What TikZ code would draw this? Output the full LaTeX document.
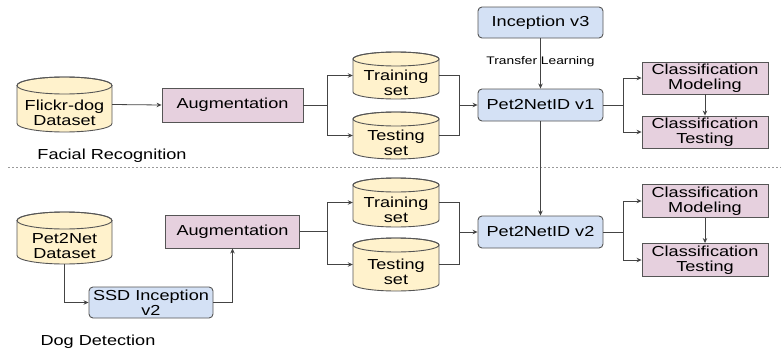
\documentclass[tikz,border=0pt]{standalone}
\usepackage{fontspec}
\setmainfont{Liberation Sans}[FakeStretch=1.25]
\usetikzlibrary{arrows.meta}

\definecolor{cylfill}{HTML}{FFF2CC}
\definecolor{pinkfill}{HTML}{E6D0DE}
\definecolor{bluefill}{HTML}{D4E1F5}
\definecolor{edgegray}{HTML}{555555}
\definecolor{wiregray}{HTML}{444444}
\definecolor{sepgray}{HTML}{9A9A9A}

\tikzset{
  mainfont/.style={font=\fontsize{14.5}{15}\selectfont},
  box/.style={draw=edgegray, line width=0.9pt, align=center, inner sep=0pt, mainfont},
  pinkbox/.style={box, fill=pinkfill},
  bluebox/.style={box, fill=bluefill, rounded corners=4pt},
  cylbody/.style={draw=edgegray, line width=0.9pt, fill=cylfill},
  cyllabel/.style={align=center, inner sep=0pt, mainfont},
  wire/.style={draw=wiregray, line width=0.8pt},
  arr/.style={wire, -{Stealth[length=5pt,width=4.5pt]}},
  caption/.style={inner sep=0pt, anchor=base, mainfont},
  smalllabel/.style={inner sep=0pt, font=\fontsize{11}{12}\selectfont},
}

% database cylinder: name, x1, y1, x2, y2, ellipse radius, text
\newcommand\dbcyl[7]{%
  \pgfmathsetmacro\cylcx{(#2+#4)/2}%
  \pgfmathsetmacro\cylrx{(#4-#2)/2}%
  \pgfmathsetmacro\cylty{#3+#6}%
  \pgfmathsetmacro\cylby{#5-#6}%
  \pgfmathsetmacro\cylw{#4-#2}%
  \pgfmathsetmacro\cylh{#5-#3}%
  \pgfmathsetmacro\cylmy{(#3+#5)/2}%
  \pgfmathsetmacro\cylty{#3+#6}%
  \pgfmathsetmacro\cyltxt{(#3+2*#6+#5)/2}%
  \path[cylbody] (#2,\cylty) -- (#2,\cylby)
    arc[start angle=180, end angle=0, x radius=\cylrx, y radius=#6]
    -- (#4,\cylty)
    arc[start angle=0, end angle=-180, x radius=\cylrx, y radius=#6] -- cycle;
  \draw[draw=edgegray, line width=0.9pt] (\cylcx,\cylty) ellipse[x radius=\cylrx, y radius=#6];
  \node[inner sep=0pt, minimum width=\cylw pt, minimum height=\cylh pt] (#1) at (\cylcx,\cylmy) {};
  \node[cyllabel] (#1-label) at (\cylcx,\cyltxt) {#7};
}

\begin{document}
\begin{tikzpicture}[x=1pt, y=-1pt]
  \useasboundingbox (0,0) rectangle (781,348);

  % separator between the two pipelines
  \draw[sepgray, line width=1pt, dash pattern=on 2pt off 2pt] (8,167) -- (781,167);

  % ---------- facial recognition pipeline ----------
  \dbcyl{flickr}{17}{77}{112}{132}{8.5}{Flickr-dog\\Dataset}
  \node[pinkbox, minimum width=141pt, minimum height=34pt] (aug1) at (232.5,105) {Augmentation};
  \dbcyl{train1}{353}{52}{439}{99}{7}{Training\\set}
  \dbcyl{test1}{353}{112}{439}{159}{7}{Testing\\set}
  \node[bluebox, minimum width=125pt, minimum height=31pt] (inc) at (540.5,22.5) {Inception v3};
  \node[bluebox, minimum width=125pt, minimum height=32pt] (p1) at (540.5,105) {Pet2NetID v1};
  \node[pinkbox, minimum width=126pt, minimum height=32pt] (cm1) at (705,78) {Classification\\Modeling};
  \node[pinkbox, minimum width=126pt, minimum height=32pt] (ct1) at (705,132) {Classification\\Testing};
  \node[caption] (cap1) at (112,159) {Facial Recognition};

  \coordinate (b1) at (327,105);
  \coordinate (j1) at (459,105);
  \coordinate (c1) at (623,105);

  \draw[arr] (flickr.east) -- (aug1.west);
  \draw[wire] (aug1.east) -- (b1);
  \draw[arr] (b1) |- (train1.west);
  \draw[arr] (b1) |- (test1.west);
  \draw[wire] (train1.east) -| (j1);
  \draw[wire] (test1.east) -| (j1);
  \draw[arr] (j1) -- (p1.west);
  \draw[arr] (inc.south) -- (p1.north);
  \node[smalllabel] (tl) at (540.5,62) {Transfer Learning};
  \draw[wire] (p1.east) -- (c1);
  \draw[arr] (c1) |- (cm1.west);
  \draw[arr] (c1) |- (ct1.west);
  \draw[arr] (cm1.south) -- (ct1.north);

  % ---------- dog detection pipeline ----------
  \dbcyl{pet}{17}{212}{112}{264}{8.5}{Pet2Net\\Dataset}
  \node[bluebox, minimum width=124pt, minimum height=31pt] (ssd) at (151,302.5) {SSD Inception\\v2};
  \node[pinkbox, minimum width=134pt, minimum height=33pt] (aug2) at (232.5,231.5) {Augmentation};
  \dbcyl{train2}{353}{178}{439}{227}{7}{Training\\set}
  \dbcyl{test2}{353}{238}{439}{291}{7}{Testing\\set}
  \node[bluebox, minimum width=125pt, minimum height=32pt] (p2) at (540.5,232) {Pet2NetID v2};
  \node[pinkbox, minimum width=126pt, minimum height=33pt] (cm2) at (705,201) {Classification\\Modeling};
  \node[pinkbox, minimum width=126pt, minimum height=33pt] (ct2) at (705,260) {Classification\\Testing};
  \node[caption] (cap2) at (98,345) {Dog Detection};

  \coordinate (b2) at (327,231.5);
  \coordinate (j2) at (459,232);
  \coordinate (c2) at (623,232);

  \draw[arr] (pet.south) |- (ssd.west);
  \draw[arr] (ssd.east) -| (aug2.south);
  \draw[wire] (aug2.east) -- (b2);
  \draw[arr] (b2) |- (train2.west);
  \draw[arr] (b2) |- (test2.west);
  \draw[wire] (train2.east) -| (j2);
  \draw[wire] (test2.east) -| (j2);
  \draw[arr] (j2) -- (p2.west);
  \draw[arr] (p1.south) -- (p2.north);
  \draw[wire] (p2.east) -- (c2);
  \draw[arr] (c2) |- (cm2.west);
  \draw[arr] (c2) |- (ct2.west);
  \draw[arr] (cm2.south) -- (ct2.north);
\end{tikzpicture}
\end{document}
